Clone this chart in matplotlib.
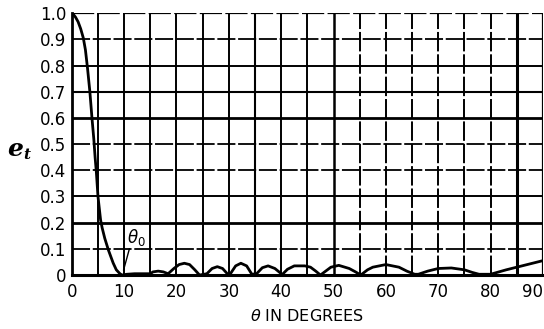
import numpy as np
import matplotlib
matplotlib.use("Agg")
import matplotlib.pyplot as plt

# e_t against angle theta
theta = [0, 0.3, 0.7, 1.2, 1.7, 2.2, 2.6, 3.0, 3.45, 3.85, 4.2, 4.45, 4.7, 5.0, 5.5, 5.8, 6.3, 7.0, 7.9, 8.5, 9.2, 9.6,
         10.5, 12, 15, 15.5, 16.5, 17.5, 18.4, 19.5, 20.5, 21.5, 22.5, 23.5, 24.4,
         25.8, 26.8, 27.8, 28.8, 29.8, 30.3, 31.3, 32.3, 33.4, 34.4, 35.3, 36.4, 37.5, 38.8, 40.2,
         41.2, 42.5, 44.5, 45.6, 46.6, 47.5, 48.5, 49.5, 51.0, 53.0, 54.2, 55.2,
         56.5, 57.5, 60.0, 62.5, 64.0, 65.5, 66.2, 68.0, 70.0, 72.5, 75.0, 76.5, 77.8,
         80.0, 83.0, 86.0, 90.0]
e_t = [1.0, 0.995, 0.985, 0.967, 0.94, 0.905, 0.86, 0.79, 0.70, 0.6, 0.52, 0.45, 0.39, 0.3, 0.21, 0.18, 0.14, 0.095,
       0.046, 0.02, 0.005, 0.0,
       0.003, 0.005, 0.005, 0.012, 0.015, 0.012, 0.005, 0.025, 0.04, 0.045, 0.04, 0.02, 0.0,
       0.005, 0.025, 0.032, 0.025, 0.003, 0.005, 0.035, 0.045, 0.035, 0.003, 0.005, 0.028, 0.035, 0.025, 0.002,
       0.022, 0.035, 0.035, 0.03, 0.015, 0.0, 0.015, 0.03, 0.037, 0.025, 0.012, 0.0,
       0.02, 0.03, 0.04, 0.03, 0.015, 0.003, 0.003, 0.015, 0.025, 0.027, 0.02, 0.01, 0.003,
       0.003, 0.02, 0.035, 0.055]

x_ticks = [0, 10, 20, 30, 40, 50, 60, 70, 80, 90]
x_labels = ["0", "10", "20", "30", "40", "50", "60", "70", "80", "90"]
y_ticks = [0, 0.1, 0.2, 0.3, 0.4, 0.5, 0.6, 0.7, 0.8, 0.9, 1.0]
y_labels = ["0", "0.1", "0.2", "0.3", "0.4", "0.5", "0.6", "0.7", "0.8", "0.9", "1.0"]

# grid lines as drawn on the original: (position, style, width)
h_grid = [(0.1, "dash", 1.3), (0.2, "solid", 2.0), (0.3, "solid", 1.4), (0.4, "dash", 1.3),
          (0.5, "dash", 1.3), (0.6, "solid", 2.0), (0.7, "solid", 1.5), (0.8, "solid", 1.4),
          (0.9, "dash", 1.3), (1.0, "dash", 1.6)]
v_grid = [(5, "solid", 1.4), (10, "solid", 1.4), (15, "solid", 1.4), (20, "solid", 1.4),
          (25, "solid", 1.4), (30, "solid", 1.4), (35, "solid", 1.5), (40, "solid", 1.4),
          (45, "solid", 1.4), (50, "solid", 1.8), (55, "dash", 1.4), (60, "dash", 1.4),
          (65, "dash", 1.4), (70, "dash", 1.4), (75, "dash", 1.4), (80, "dash", 1.4),
          (85, "solid", 2.2), (90, "solid", 1.6)]

plt.rcParams["font.family"] = "DejaVu Sans"

fig = plt.figure(figsize=(5.44, 3.29), dpi=100)
ax = fig.add_axes([0.132, 0.164, 0.866, 0.796])

dash = (0, (10, 1.5))
for y, st, lw in h_grid:
    ax.axhline(y, color="black", lw=lw, ls=dash if st == "dash" else "-", zorder=1)
for x, st, lw in v_grid:
    ax.axvline(x, color="black", lw=lw, ls=dash if st == "dash" else "-", zorder=1)

ax.plot(theta, e_t, color="black", lw=2.0, solid_capstyle="round", zorder=3)

# theta_0 marker
ax.plot([11.0, 9.9], [0.10, 0.02], color="black", lw=1.0, zorder=3)
ax.text(10.6, 0.105, r"$\theta_0$", fontsize=12, ha="left", va="bottom", zorder=4)

ax.set_xlim(0, 90)
ax.set_ylim(0, 1.0)
ax.set_xticks(x_ticks)
ax.set_xticklabels(x_labels)
ax.set_yticks(y_ticks)
ax.set_yticklabels(y_labels)
ax.tick_params(length=0, labelsize=12)
ax.tick_params(axis="x", pad=6)
ax.tick_params(axis="y", pad=4)
# last label sits against the image edge
ax.get_xticklabels()[-1].set_horizontalalignment("right")

for s in ["top", "right"]:
    ax.spines[s].set_visible(False)
ax.spines["left"].set_linewidth(2.0)
ax.spines["bottom"].set_linewidth(2.2)

ax.set_xlabel(r"$\theta$ IN DEGREES", fontsize=11.5, labelpad=5)

# e_t label, bold italic
fig.text(0.014, 0.548, "e", fontsize=18, family="DejaVu Serif",
         style="italic", weight="bold", ha="left", va="center")
fig.text(0.042, 0.528, "t", fontsize=11, family="DejaVu Serif",
         style="italic", weight="bold", ha="left", va="center")

fig.savefig("out.png", dpi=100)
